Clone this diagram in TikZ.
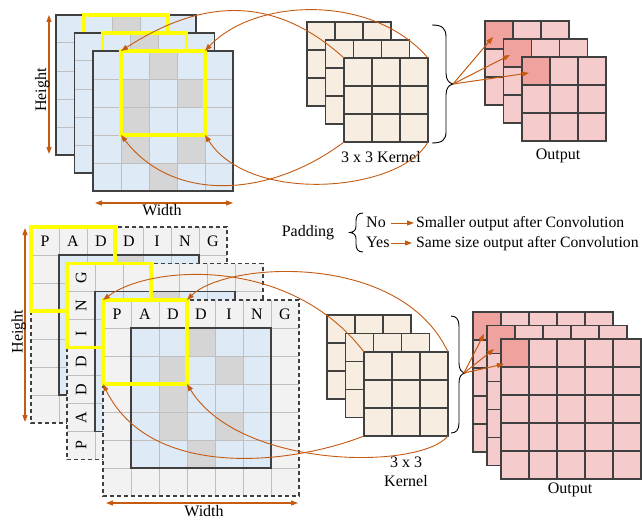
\documentclass[tikz,border=0pt]{standalone}
\usepackage{fontspec}
\setmainfont{Liberation Serif}
\usetikzlibrary{arrows.meta}

\definecolor{cellblue}{HTML}{DEEAF6}
\definecolor{cellgray}{HTML}{D5D5D5}
\definecolor{padfill}{HTML}{F2F2F2}
\definecolor{lightline}{HTML}{BFBFBF}
\definecolor{darkline}{HTML}{404040}
\definecolor{kernfill}{HTML}{F8EDE1}
\definecolor{outfill}{HTML}{F6CBCB}
\definecolor{outdark}{HTML}{EFA29E}
\definecolor{arrorange}{HTML}{C55A11}
\definecolor{hiyellow}{HTML}{FFFF00}

\tikzset{
  thinline/.style={draw=lightline, line width=1pt},
  frameline/.style={draw=darkline, line width=1.3pt},
  innerframe/.style={draw=darkline, line width=1.2pt},
  dashframe/.style={draw=darkline, line width=1.1pt, dash pattern=on 4pt off 3pt},
  kline/.style={draw=darkline, line width=1.1pt},
  yellowbox/.style={draw=hiyellow, line width=3.2pt, minimum width=84pt,
    minimum height=84pt, inner sep=0pt, outer sep=0pt, anchor=north west},
  lbl/.style={inner sep=0pt, anchor=base},
  cellletter/.style={inner sep=0pt, anchor=base},
  oarrow/.style={draw=arrorange, line width=1pt, -{Triangle[length=7pt,width=5pt]}},
  dimarrow/.style={draw=arrorange, line width=1.1pt,
    {Triangle[length=7pt,width=5pt]}-{Triangle[length=7pt,width=5pt]}},
  curve/.style={draw=arrorange, line width=0.9pt, -{Triangle[length=7pt,width=5pt]}},
  bracepath/.style={draw=black, line width=0.9pt},
}

% 5x5 input map with its shaded cells
\newcommand\mapgrid[2]{%
  \fill[cellblue] (#1,#2) rectangle ++(140,140);
  \foreach \r/\c in {0/2,1/1,1/3,2/1,3/1,3/3,4/2}
    \fill[cellgray] ({#1+28*\c},{#2+28*\r}) rectangle ++(28,28);
  \foreach \i in {1,2,3,4} {
    \draw[thinline] ({#1+28*\i},#2) -- ++(0,140);
    \draw[thinline] (#1,{#2+28*\i}) -- ++(140,0);
  }
  \draw[frameline] (#1,#2) rectangle ++(140,140);
}

% 7x7 zero-padded map
\newcommand\padmap[2]{%
  \fill[padfill] (#1,#2) rectangle ++(196,196);
  \fill[cellblue] ({#1+28},{#2+28}) rectangle ++(140,140);
  \foreach \r/\c in {0/2,1/1,1/3,2/1,3/1,3/3,4/2}
    \fill[cellgray] ({#1+28+28*\c},{#2+28+28*\r}) rectangle ++(28,28);
  \foreach \i in {1,...,6} {
    \draw[thinline] ({#1+28*\i},#2) -- ++(0,196);
    \draw[thinline] (#1,{#2+28*\i}) -- ++(196,0);
  }
  \draw[innerframe] ({#1+28},{#2+28}) rectangle ++(140,140);
  \draw[dashframe] (#1,#2) rectangle ++(196,196);
}

% plain square grid: x, y, size in cells, list of inner line indices, fill colour
\newcommand\sqgrid[5]{%
  \fill[#5] (#1,#2) rectangle ++({28*#3},{28*#3});
  \foreach \i in {#4} {
    \draw[kline] ({#1+28*\i},#2) -- ++(0,{28*#3});
    \draw[kline] (#1,{#2+28*\i}) -- ++({28*#3},0);
  }
  \draw[kline] (#1,#2) rectangle ++({28*#3},{28*#3});
}

% output grid with its first cell highlighted
\newcommand\outgrid[4]{%
  \fill[outfill] (#1,#2) rectangle ++({28*#3},{28*#3});
  \fill[outdark] (#1,#2) rectangle ++(28,28);
  \foreach \i in {#4} {
    \draw[kline] ({#1+28*\i},#2) -- ++(0,{28*#3});
    \draw[kline] (#1,{#2+28*\i}) -- ++({28*#3},0);
  }
  \draw[kline] (#1,#2) rectangle ++({28*#3},{28*#3});
}

\begin{document}
\begin{tikzpicture}[x=1pt, y=-1pt, font=\fontsize{16}{19}\selectfont]
\fill[white] (0,0) rectangle (642,519);
\useasboundingbox (0,0) rectangle (642,519);

% ---------------- without padding ----------------
\mapgrid{56}{15}
\node[yellowbox] (ya1) at (84,15) {};
\mapgrid{74.5}{33}
\node[yellowbox] (ya2) at (102.5,33) {};
\mapgrid{93}{51}
\node[yellowbox] (ya3) at (121,51) {};

% dimensions
\coordinate (hA1) at (49,15);
\coordinate (hA2) at (49,154);
\draw[dimarrow] (hA1) -- (hA2);
\node[lbl, rotate=90] (heightA) at (46,90) {Height};
\coordinate (wA1) at (95,203);
\coordinate (wA2) at (233,203);
\draw[dimarrow] (wA1) -- (wA2);
\node[lbl] (widthA) at (162,215.5) {Width};

% kernels
\sqgrid{307}{22}{3}{1,2}{kernfill}
\sqgrid{325.5}{40}{3}{1,2}{kernfill}
\sqgrid{344}{58}{3}{1,2}{kernfill}
\coordinate (kA-tl) at (344,58);
\coordinate (kA-tr) at (428,58);
\coordinate (kA-bl) at (344,142);
\coordinate (kA-br) at (428,142);
\node[lbl] (kernA) at (381,162) {3 x 3 Kernel};

% brace
\draw[bracepath] (432,25) .. controls (442,25) and (446,28) .. (446,37)
  -- (446,73) .. controls (446,80) and (449,83) .. (453,84)
  .. controls (449,85) and (446,88) .. (446,95)
  -- (446,132) .. controls (446,140) and (442,143) .. (432,143);
\coordinate (tipA) at (453,84);

% outputs
\outgrid{485}{21}{3}{1,2}
\outgrid{503.5}{39}{3}{1,2}
\outgrid{522}{57}{3}{1,2}
\node[lbl] (outA) at (558,159.5) {Output};
\coordinate (oA1) at (493,37);
\coordinate (oA2) at (510,55);
\coordinate (oA3) at (529,73);
\draw[oarrow] (tipA) -- (oA1);
\draw[oarrow] (tipA) -- (oA2);
\draw[oarrow] (tipA) -- (oA3);

% sliding window connectors
\draw[curve] (kA-tl) .. controls (272,-7) and (200,0) .. (ya3.north west);
\draw[curve] (kA-tr) .. controls (371,-8) and (253,-1) .. (ya3.north east);
\draw[curve] (kA-bl) .. controls (271,197) and (174,204) .. (ya3.south west);
\draw[curve] (kA-br) .. controls (400,192) and (250,205) .. (ya3.south east);

% ---------------- padding legend ----------------
\node[lbl] (padlbl) at (308,236) {Padding};
\draw[bracepath] (363,213) .. controls (358,213) and (356,216) .. (356,221)
  -- (356,226) .. controls (356,230) and (354,232) .. (350,232.5)
  .. controls (354,233) and (356,235) .. (356,239)
  -- (356,244) .. controls (356,249) and (358,252) .. (363,252);
\node[lbl, anchor=base west] (no) at (366,227.5) {No};
\node[lbl, anchor=base west] (yes) at (366,247.5) {Yes};
\node[lbl, anchor=base west, font=\fontsize{15.7}{19}\selectfont] (smaller) at (416,227.5) {Smaller output after Convolution};
\node[lbl, anchor=base west, font=\fontsize{15.7}{19}\selectfont] (same) at (416,247.5) {Same size output after Convolution};
\draw[oarrow] ([xshift=5pt,yshift=4.5pt]no.base east) -- ([xshift=-2pt,yshift=4.5pt]smaller.base west);
\draw[oarrow] ([xshift=1.5pt,yshift=4.5pt]yes.base east) -- ([xshift=-4pt,yshift=4.5pt]same.base west);

% ---------------- with padding ----------------
\padmap{31}{227}
\foreach \l [count=\k from 0] in {P,A,D,D,I,N,G}
  \node[cellletter] (pb-\k) at ({31+14+28*\k},{227+19.3}) {\l};
\node[yellowbox] (yb1) at (31,227) {};
\padmap{67}{263.5}
\foreach \l [count=\k from 0] in {G,N,I,D,D,A,P}
  \node[cellletter, rotate=90] (pm-\k) at ({67+19.3},{263.5+14+28*\k}) {\l};
\node[yellowbox] (yb2) at (67,263.5) {};
\padmap{103}{300}
\foreach \l [count=\k from 0] in {P,A,D,D,I,N,G}
  \node[cellletter] (pf-\k) at ({103+14+28*\k},{300+19.3}) {\l};
\node[yellowbox] (yb3) at (103,300) {};

% dimensions
\coordinate (hB1) at (25,228);
\coordinate (hB2) at (25,422);
\draw[dimarrow] (hB1) -- (hB2);
\node[lbl, rotate=90] (heightB) at (22.5,331.5) {Height};
\coordinate (wB1) at (106,503);
\coordinate (wB2) at (298,503);
\draw[dimarrow] (wB1) -- (wB2);
\node[lbl] (widthB) at (204,516.5) {Width};

% kernels
\sqgrid{327}{315}{3}{1,2}{kernfill}
\sqgrid{345.5}{333.5}{3}{1,2}{kernfill}
\sqgrid{364}{352}{3}{1,2}{kernfill}
\coordinate (kB-tl) at (364,352);
\coordinate (kB-tr) at (448,352);
\coordinate (kB-bl) at (364,436);
\coordinate (kB-br) at (448,436);
\node[lbl] (kernB1) at (406,467) {3 x 3};
\node[lbl] (kernB2) at (406,486) {Kernel};

% brace
\draw[bracepath] (451,316) .. controls (456,316) and (459,319) .. (459,326)
  -- (459,363) .. controls (459,369) and (461,372) .. (465,373)
  .. controls (461,374) and (459,377) .. (459,383)
  -- (459,423) .. controls (459,430) and (456,433) .. (451,433);
\coordinate (tipB) at (464,373);

% outputs
\outgrid{473}{312}{5}{1,2,3,4}
\outgrid{487}{325.5}{5}{1,2,3,4}
\outgrid{501}{339}{5}{1,2,3,4}
\node[lbl] (outB) at (570,493.5) {Output};
\coordinate (oB1) at (484,334);
\coordinate (oB2) at (494,349);
\coordinate (oB3) at (504,364);
\draw[oarrow] (tipB) -- (oB1);
\draw[oarrow] (tipB) -- (oB2);
\draw[oarrow] (tipB) -- (oB3);

% sliding window connectors
\draw[curve] (kB-tl) .. controls (290,255) and (150,265) .. (yb3.north west);
\draw[curve] (kB-tr) .. controls (400,250) and (225,262) .. (yb3.north east);
\draw[curve] (kB-bl) .. controls (290,465) and (150,480) .. (yb3.south west);
\draw[curve] (kB-br) .. controls (420,470) and (240,470) .. (yb3.south east);
\end{tikzpicture}
\end{document}
